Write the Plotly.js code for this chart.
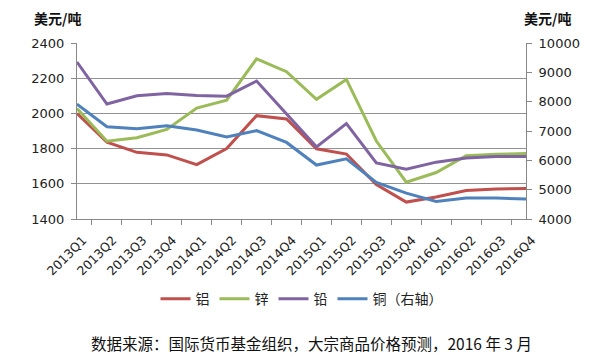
<!DOCTYPE html>
<html>
<head>
<meta charset="utf-8">
<script src="https://cdn.plot.ly/plotly-3.0.1.min.js"></script>
<style>html,body{margin:0;padding:0;background:#fff;}#chart{width:601px;height:358px;}</style>
</head>
<body>
<div id="chart"></div>
<script>
const categories = ["2013Q1","2013Q2","2013Q3","2013Q4","2014Q1","2014Q2","2014Q3","2014Q4","2015Q1","2015Q2","2015Q3","2015Q4","2016Q1","2016Q2","2016Q3","2016Q4"];
const aluminum = [2000,1836,1779,1764,1709,1800,1987,1968,1799,1769,1596,1496,1525,1562,1570,1574];
const zinc = [2028,1842,1862,1909,2030,2075,2310,2237,2080,2193,1843,1609,1664,1760,1768,1772];
const lead = [2292,2053,2100,2113,2102,2098,2184,1998,1810,1942,1719,1683,1723,1747,1755,1755];
const copper = [7917,7147,7079,7181,7034,6796,7011,6610,5840,6050,5250,4883,4600,4713,4713,4679];
const seriesNames = ["铝","锌","铅","铜（右轴）"];
const leftTicks = [1400,1600,1800,2000,2200,2400];
const rightTicks = [4000,5000,6000,7000,8000,9000,10000];
const rightTickText = ["4000","5000","6000","7000","8000","9000","10000"];
const unitLabel = "美元/吨";
const sourceText = "数据来源：国际货币基金组织，大宗商品价格预测，2016 年 3 月";

const lw = 3;
const traces = [
  {x: categories, y: aluminum, name: seriesNames[0], type: 'scatter', mode: 'lines', line: {color: '#C0504D', width: lw}},
  {x: categories, y: zinc, name: seriesNames[1], type: 'scatter', mode: 'lines', line: {color: '#9BBB59', width: lw}},
  {x: categories, y: lead, name: seriesNames[2], type: 'scatter', mode: 'lines', line: {color: '#8064A2', width: lw}},
  {x: categories, y: copper, name: seriesNames[3], type: 'scatter', mode: 'lines', yaxis: 'y2', line: {color: '#4F81BD', width: lw}}
];

const tickFont = {family: 'DejaVu Sans, sans-serif', size: 13, color: '#222'};
const layout = {
  width: 601, height: 358,
  margin: {l: 77, r: 75, t: 43, b: 139},
  paper_bgcolor: '#fff', plot_bgcolor: '#fff',
  showlegend: true,
  legend: {orientation: 'h', x: 0.5, xanchor: 'center', y: -0.455, yanchor: 'middle',
           font: {family: 'Noto Sans CJK SC, sans-serif', size: 14, color: '#222'}, itemwidth: 30, tracegroupgap: 0},
  xaxis: {
    type: 'category', tickangle: -45, tickson: 'boundaries', ticks: 'outside', ticklen: 5, tickcolor: '#888',
    showline: true, linecolor: '#888', linewidth: 1, showgrid: false,
    ticklabelstandoff: 8, ticklabelshift: 6,
    tickfont: {family: 'DejaVu Sans, sans-serif', size: 12.5, color: '#222'}, fixedrange: true
  },
  yaxis: {
    range: [1400, 2400], tickvals: leftTicks, ticks: 'outside', ticklen: 5, tickcolor: '#888',
    showline: true, linecolor: '#888', linewidth: 1, showgrid: true, gridcolor: '#929292', gridwidth: 1,
    zeroline: false, tickfont: tickFont, ticklabelstandoff: 4
  },
  yaxis2: {
    range: [4000, 10000], tickvals: rightTicks, ticktext: rightTickText, overlaying: 'y', side: 'right', ticks: 'outside', ticklen: 5, tickcolor: '#888',
    showline: true, linecolor: '#888', linewidth: 1, showgrid: false, zeroline: false, tickfont: tickFont, ticklabelstandoff: 4
  },
  annotations: [
    {text: unitLabel, xref: 'paper', yref: 'paper', x: -0.0434, y: 1.142, showarrow: false, xanchor: 'center', yanchor: 'middle',
     font: {family: 'Noto Sans CJK SC, sans-serif', size: 14, color: '#111', weight: 'bold'}},
    {text: unitLabel, xref: 'paper', yref: 'paper', x: 1.048, y: 1.142, showarrow: false, xanchor: 'center', yanchor: 'middle',
     font: {family: 'Noto Sans CJK SC, sans-serif', size: 14, color: '#111', weight: 'bold'}},
    {text: sourceText, xref: 'paper', yref: 'paper', x: 0.523, y: -0.705, showarrow: false, xanchor: 'center', yanchor: 'middle',
     font: {family: 'Noto Sans CJK SC, sans-serif', size: 15.5, color: '#111'}}
  ]
};
Plotly.newPlot('chart', traces, layout, {displayModeBar: false, staticPlot: true});
</script>
</body>
</html>
